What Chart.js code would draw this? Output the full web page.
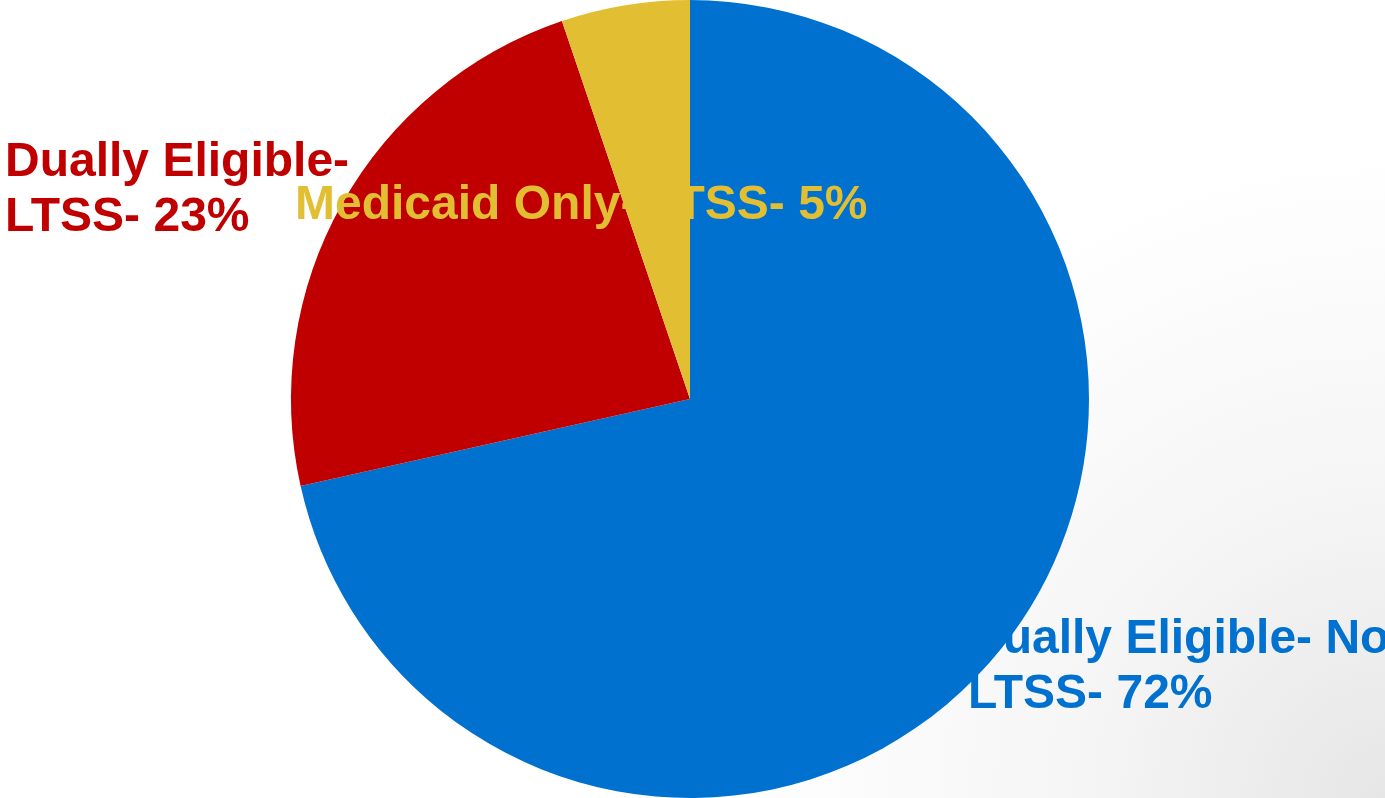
<!DOCTYPE html>
<html>
<head>
<meta charset="utf-8">
<script src="https://cdn.jsdelivr.net/npm/chart.js@4"></script>
<style>
  html, body { margin: 0; padding: 0; }
  body {
    width: 1385px; height: 798px; overflow: hidden;
    background: radial-gradient(circle at 100% 100%, #e6e6e6 0px, #f5f5f5 300px, #ffffff 650px);
  }
  #wrap { position: relative; width: 1385px; height: 798px; }
</style>
</head>
<body>
<div id="wrap"><canvas id="pie"></canvas></div>
<script>
const categories = ['Dually Eligible- Non LTSS', 'Dually Eligible- LTSS', 'Medicaid Only- LTSS'];
const shares = [71.5, 23.3, 5.2];
const colors = ['#0071CE', '#C00000', '#E2BF32'];
// label lines, one array per slice
const labelLines = [
  ['Dually Eligible- Non', 'LTSS- 72%'],
  ['Dually Eligible-', 'LTSS- 23%'],
  ['Medicaid Only- LTSS- 5%']
];

const labelPlugin = {
  id: 'sliceLabels',
  afterDraw(chart) {
    const ctx = chart.ctx;
    // where each label block starts (left x, first baseline)
    const spots = [[968, 653], [5, 176], [295, 219]];
    ctx.save();
    ctx.font = 'bold 48px "Liberation Sans", Arial, sans-serif';
    ctx.textAlign = 'left';
    ctx.textBaseline = 'alphabetic';
    labelLines.forEach((lines, i) => {
      ctx.fillStyle = colors[i];
      lines.forEach((txt, j) => {
        ctx.fillText(txt, spots[i][0], spots[i][1] + j * 55);
      });
    });
    ctx.restore();
  }
};

const pie_data = {
  labels: categories,
  datasets: [{
    data: shares,
    backgroundColor: colors,
    borderWidth: 0,
    hoverOffset: 0
  }]
};

const pie_config = {
  type: 'pie',
  data: pie_data,
  options: {
    responsive: false,
    animation: false,
    layout: { padding: { left: 0, right: 5, top: 0, bottom: 0 } },
    plugins: {
      legend: { display: false },
      tooltip: { enabled: false }
    }
  },
  plugins: [labelPlugin]
};

const cv = document.getElementById('pie');
cv.width = 1385;
cv.height = 798;
const pie = new Chart(cv, pie_config);
</script>
</body>
</html>
